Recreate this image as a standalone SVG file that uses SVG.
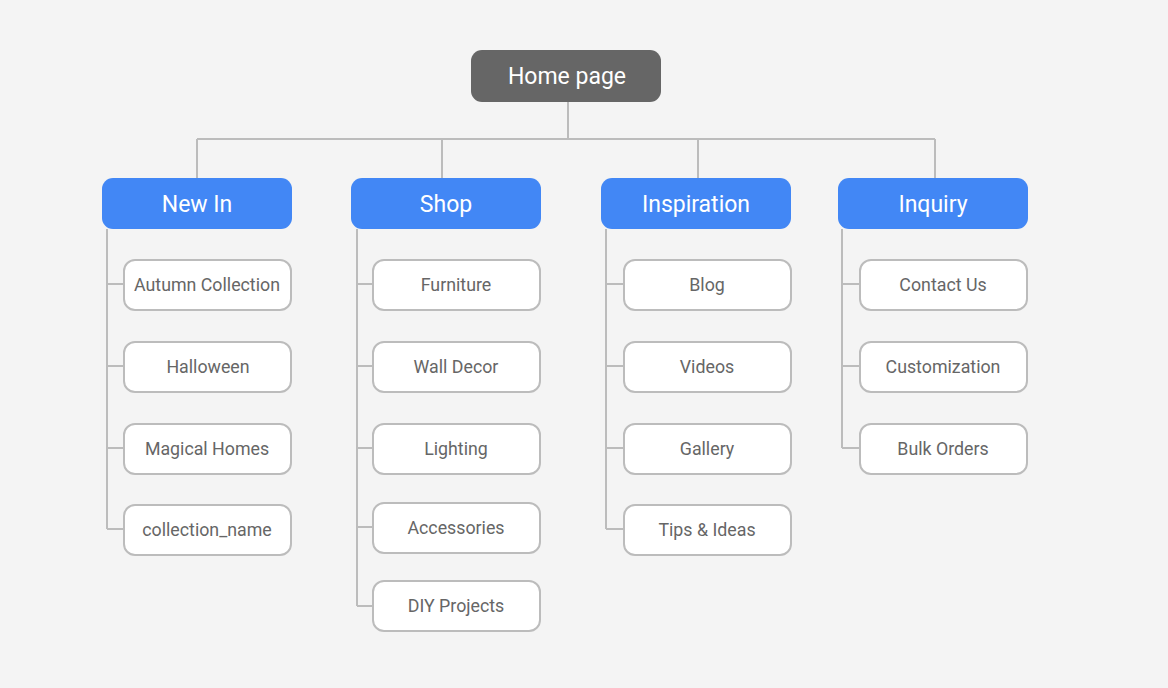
<svg xmlns="http://www.w3.org/2000/svg" width="1168" height="688" viewBox="0 0 1168 688">
  <style>
    .bg { fill: #f4f4f4; }
    .root { fill: #666666; }
    .cat { fill: #4287f5; }
    .leaf { fill: #ffffff; stroke: #bcbcbc; stroke-width: 2; }
    .ln { fill: none; stroke: #bcbcbc; stroke-width: 2; }
    text { font-family: Roboto, "Liberation Sans", sans-serif; text-anchor: middle; dominant-baseline: central; }
    .t-big { font-size: 23px; fill: #ffffff; }
    .t-leaf { font-size: 17.8px; fill: #666666; }
  </style>
  <rect class="bg" x="0" y="0" width="1168" height="688"/>

  <!-- connectors -->
  <g id="connectors" class="ln">
    <path d="M568 102 V139 M197 139 H935 M197 139 V178 M442 139 V178 M698 139 V178 M935 139 V178"/>
    <!-- New In -->
    <path d="M107 229 V529 M107 284 H124 M107 366 H124 M107 448 H124 M107 529 H124"/>
    <!-- Shop -->
    <path d="M357 229 V606 M357 284 H373 M357 366 H373 M357 448 H373 M357 527 H373 M357 606 H373"/>
    <!-- Inspiration -->
    <path d="M606 229 V529 M606 284 H624 M606 366 H624 M606 448 H624 M606 529 H624"/>
    <!-- Inquiry -->
    <path d="M842 229 V448 M842 284 H860 M842 366 H860 M842 448 H860"/>
  </g>

  <g id="home">
    <rect class="root" x="471" y="50" width="190" height="52" rx="11"/>
    <text class="t-big" x="567" y="76">Home page</text>
  </g>

  <g id="new-in">
    <rect class="cat" x="102" y="178" width="190" height="51" rx="11"/>
    <text class="t-big" x="197" y="204">New In</text>
  </g>
  <g id="shop">
    <rect class="cat" x="351" y="178" width="190" height="51" rx="11"/>
    <text class="t-big" x="446" y="204">Shop</text>
  </g>
  <g id="inspiration">
    <rect class="cat" x="601" y="178" width="190" height="51" rx="11"/>
    <text class="t-big" x="696" y="204">Inspiration</text>
  </g>
  <g id="inquiry">
    <rect class="cat" x="838" y="178" width="190" height="51" rx="11"/>
    <text class="t-big" x="933" y="204">Inquiry</text>
  </g>

  <!-- New In children -->
  <g id="autumn-collection"><rect class="leaf" x="124" y="260" width="167" height="50" rx="11"/><text class="t-leaf" x="207" y="284">Autumn Collection</text></g>
  <g id="halloween"><rect class="leaf" x="124" y="342" width="167" height="50" rx="11"/><text class="t-leaf" x="208" y="366">Halloween</text></g>
  <g id="magical-homes"><rect class="leaf" x="124" y="424" width="167" height="50" rx="11"/><text class="t-leaf" x="207" y="448">Magical Homes</text></g>
  <g id="collection-name"><rect class="leaf" x="124" y="505" width="167" height="50" rx="11"/><text class="t-leaf" x="207" y="529">collection_name</text></g>

  <!-- Shop children -->
  <g id="furniture"><rect class="leaf" x="373" y="260" width="167" height="50" rx="11"/><text class="t-leaf" x="456" y="284">Furniture</text></g>
  <g id="wall-decor"><rect class="leaf" x="373" y="342" width="167" height="50" rx="11"/><text class="t-leaf" x="456" y="366">Wall Decor</text></g>
  <g id="lighting"><rect class="leaf" x="373" y="424" width="167" height="50" rx="11"/><text class="t-leaf" x="456" y="448">Lighting</text></g>
  <g id="accessories"><rect class="leaf" x="373" y="503" width="167" height="50" rx="11"/><text class="t-leaf" x="456" y="527">Accessories</text></g>
  <g id="diy-projects"><rect class="leaf" x="373" y="581" width="167" height="50" rx="11"/><text class="t-leaf" x="456" y="605">DIY Projects</text></g>

  <!-- Inspiration children -->
  <g id="blog"><rect class="leaf" x="624" y="260" width="167" height="50" rx="11"/><text class="t-leaf" x="707" y="284">Blog</text></g>
  <g id="videos"><rect class="leaf" x="624" y="342" width="167" height="50" rx="11"/><text class="t-leaf" x="707" y="366">Videos</text></g>
  <g id="gallery"><rect class="leaf" x="624" y="424" width="167" height="50" rx="11"/><text class="t-leaf" x="707" y="448">Gallery</text></g>
  <g id="tips-ideas"><rect class="leaf" x="624" y="505" width="167" height="50" rx="11"/><text class="t-leaf" x="707" y="529">Tips &amp; Ideas</text></g>

  <!-- Inquiry children -->
  <g id="contact-us"><rect class="leaf" x="860" y="260" width="167" height="50" rx="11"/><text class="t-leaf" x="943" y="284">Contact Us</text></g>
  <g id="customization"><rect class="leaf" x="860" y="342" width="167" height="50" rx="11"/><text class="t-leaf" x="943" y="366">Customization</text></g>
  <g id="bulk-orders"><rect class="leaf" x="860" y="424" width="167" height="50" rx="11"/><text class="t-leaf" x="943" y="448">Bulk Orders</text></g>
</svg>
